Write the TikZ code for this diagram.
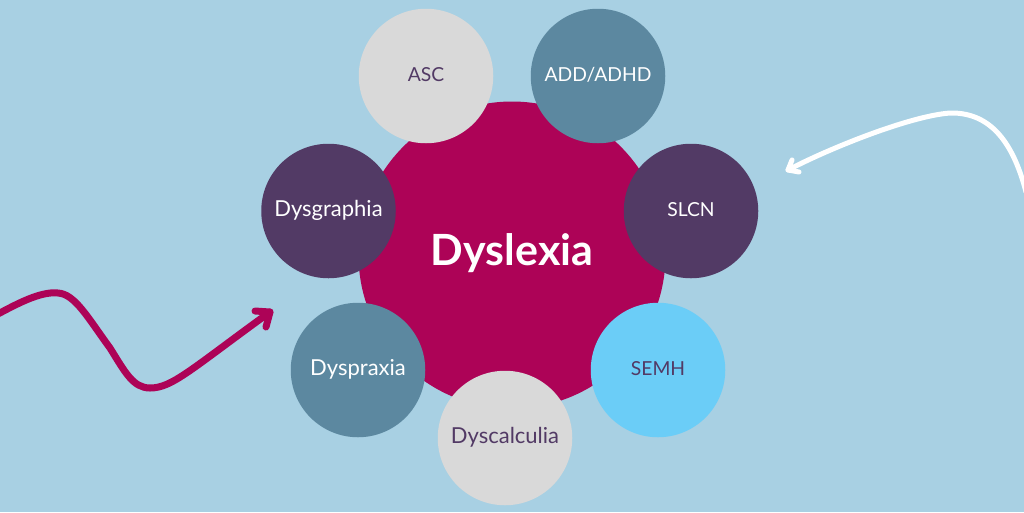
\documentclass[tikz,border=0pt]{standalone}
\usepackage{fontspec}
\setmainfont{Lato}
\definecolor{bg}{HTML}{A8D0E3}
\definecolor{mag}{HTML}{AD0357}
\definecolor{plum}{HTML}{523A65}
\definecolor{teal}{HTML}{5C88A0}
\definecolor{lgrey}{HTML}{D9D9D9}
\definecolor{sky}{HTML}{6BCDF7}
\tikzset{x=1pt,y=-1pt,
 sat/.style={circle,minimum size=134.5pt,inner sep=0pt,text height=10pt,text depth=0pt,font=\fontsize{22}{26}\selectfont},
 wh/.style={sat,text=white},
 dk/.style={sat,text=plum},
 caps/.style={font=\fontsize{19.3}{23}\selectfont}}
\begin{document}
\begin{tikzpicture}
\useasboundingbox (0,0) rectangle (1024,512);
\fill[bg] (0,0) rectangle (1024,512);
\node[circle,fill=mag,minimum size=307pt,inner sep=0pt,text=white,text height=20pt,text depth=0pt,font=\bfseries\fontsize{43}{50}\selectfont] (hub) at (512,255) {Dyslexia};
\node[dk,caps,fill=lgrey] (asc) at (426,76) {ASC};
\node[wh,caps,fill=teal] (add) at (598,76) {ADD/ADHD};
\node[wh,caps,fill=plum] (slcn) at (691,211) {SLCN};
\node[dk,caps,fill=sky] (semh) at (658,370) {SEMH};
\node[dk,fill=lgrey] (calc) at (505,438) {Dyscalculia};
\node[wh,fill=teal] (prax) at (358,370) {Dyspraxia};
\node[wh,fill=plum] (graph) at (328.5,211) {Dysgraphia};
\coordinate (a0) at (-4,315);
\coordinate (a1) at (270,312);
\coordinate (b0) at (1026,192);
\coordinate (b1) at (788,170);
\draw[mag,line width=7pt,line cap=round,line join=round] (a0) .. controls (15,305) and (40,291) .. (58,293) .. controls (75,294) and (88,318) .. (110,348) .. controls (125,372) and (133,388) .. (150,388) .. controls (172,388) and (190,370) .. (a1);
\draw[mag,line width=7pt,line cap=round,line join=round] (255,311) -- (a1) -- (266,327);
\draw[white,line width=5pt,line cap=round,line join=round] (b0) .. controls (1015,150) and (995,112) .. (950,113) .. controls (910,116) and (830,148) .. (b1);
\draw[white,line width=5pt,line cap=round,line join=round] (792,160) -- (b1) -- (799,172);
\end{tikzpicture}
\end{document}
